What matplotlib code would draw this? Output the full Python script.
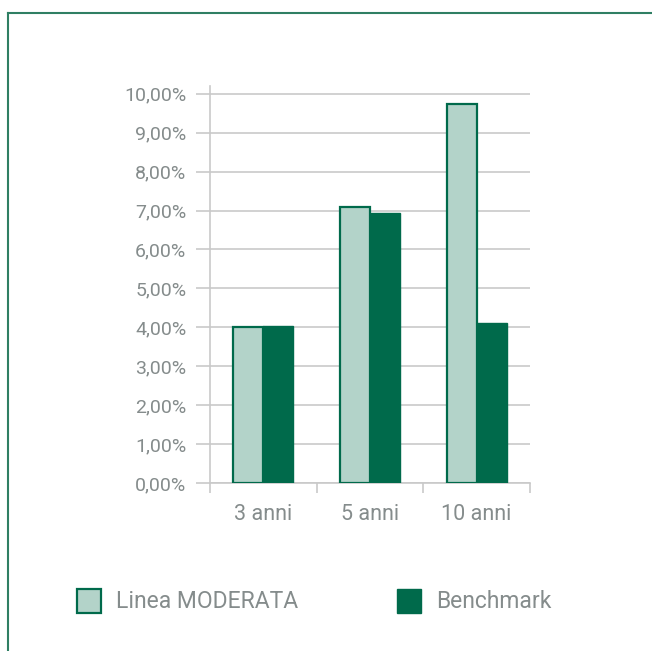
import matplotlib
matplotlib.use("Agg")
import matplotlib.pyplot as plt
from matplotlib.patches import Rectangle
from matplotlib.lines import Line2D
import numpy as np

categories = ["3 anni", "5 anni", "10 anni"]
linea_moderata = [4.02, 7.08, 9.73]
benchmark = [4.03, 6.93, 4.11]
yticks = [0, 1, 2, 3, 4, 5, 6, 7, 8, 9, 10]
series_names = ["Linea MODERATA", "Benchmark"]

light = "#b3d3c9"
dark = "#006a4b"
text_col = "#858c8c"
grid_col = "#c9c9c9"

plt.rcParams['font.family'] = ['Roboto', 'DejaVu Sans']
plt.rcParams['font.weight'] = 'normal'

fig = plt.figure(figsize=(6.52, 6.51), dpi=100)
W, H = 652, 651

# frame
fig.add_artist(Line2D([8 / W, 1], [1 - 13 / H, 1 - 13 / H], color="#2f7f63", lw=1.5, transform=fig.transFigure))
fig.add_artist(Line2D([8 / W, 8 / W], [0, 1 - 13 / H], color="#2f7f63", lw=1.5, transform=fig.transFigure))

ytop = 10.2
ax = fig.add_axes([210 / W, 1 - 483 / H, 320 / W, (483 - 86) / H])
x = np.arange(len(categories))
bw = 0.28
ax.bar(x - bw / 2, linea_moderata, bw, color=light, edgecolor=dark, linewidth=1.6, zorder=3)
ax.bar(x + bw / 2, benchmark, bw, color=dark, edgecolor=dark, linewidth=1.0, zorder=3)

ax.set_xlim(-0.5, 2.5)
ax.set_ylim(0, ytop)
ax.set_yticks(yticks)
ax.set_yticklabels([f"{v:.2f}%".replace(".", ",") for v in yticks], fontsize=14, color=text_col)
ax.yaxis.grid(True, color=grid_col, lw=1.2, zorder=0)
ax.set_axisbelow(True)
ax.set_xticks(x)
ax.set_xticklabels(categories, fontsize=15.5, color=text_col)
ax.set_xticks([-0.5, 0.5, 1.5, 2.5], minor=True)
ax.tick_params(axis='x', which='major', length=0, pad=15)
ax.tick_params(axis='x', which='minor', length=7, color=grid_col, width=1.2, direction='out')
ax.tick_params(axis='y', length=10, color=grid_col, width=1.2, pad=7)
for s in ["top", "right"]:
    ax.spines[s].set_visible(False)
ax.spines["left"].set_color(grid_col)
ax.spines["left"].set_linewidth(1.2)
ax.spines["bottom"].set_color(grid_col)
ax.spines["bottom"].set_linewidth(1.2)

# legend
fig.add_artist(Rectangle((77 / W, 1 - 613 / H), 24 / W, 24 / H, transform=fig.transFigure,
                         facecolor=light, edgecolor=dark, lw=1.6))
fig.text(116 / W, 1 - 601 / H, series_names[0], fontsize=16.5, color=text_col, va="center", ha="left")
fig.add_artist(Rectangle((397 / W, 1 - 613 / H), 24 / W, 24 / H, transform=fig.transFigure,
                         facecolor=dark, edgecolor=dark, lw=1.0))
fig.text(436 / W, 1 - 601 / H, series_names[1], fontsize=16.5, color=text_col, va="center", ha="left")

fig.savefig("out.png", dpi=100)
